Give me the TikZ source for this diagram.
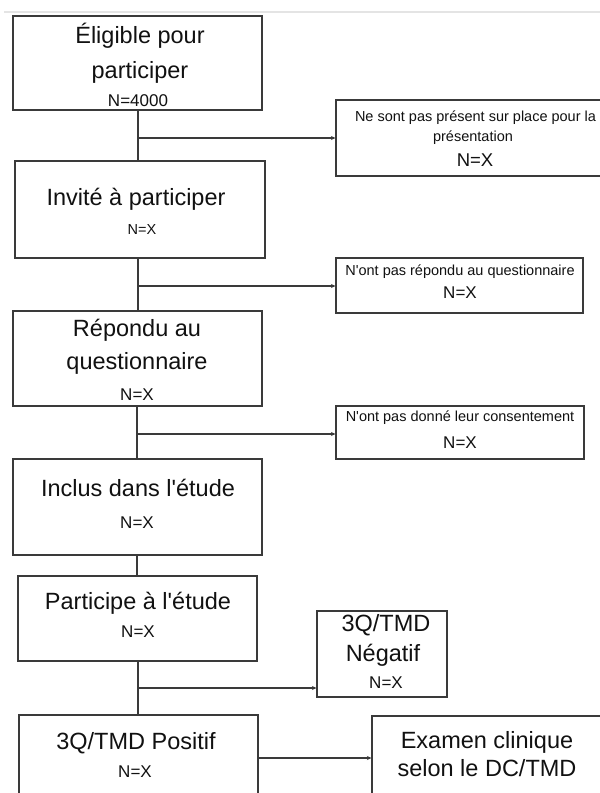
\documentclass[tikz,border=0pt]{standalone}
\usepackage{fontspec}
\setmainfont{Liberation Sans}[Ligatures=TeXOff]
\usetikzlibrary{arrows.meta}
\definecolor{ln}{HTML}{3A3A3A}
\definecolor{tx}{HTML}{111111}
\definecolor{sep}{HTML}{E4E4E4}
\begin{document}
\begin{tikzpicture}[x=1pt,y=-1pt,
  box/.style={draw=ln,line width=1.1pt,rectangle,inner sep=0pt},
  conn/.style={draw=ln,line width=1.1pt},
  arr/.style={conn,-{Stealth[length=4.5pt,width=4pt]}},
  big/.style={text=tx,inner sep=0pt,font=\fontsize{23.5}{28}\selectfont,text height=17pt,text depth=5pt},
  smalltx/.style={text=tx,inner sep=0pt,font=\fontsize{14.5}{17}\selectfont,text height=10.5pt,text depth=3pt},
  nx/.style={text=tx,inner sep=0pt,font=\fontsize{17}{20}\selectfont,text height=12.2pt,text depth=0pt},
  nxs/.style={text=tx,inner sep=0pt,font=\fontsize{14.5}{17}\selectfont,text height=10.4pt,text depth=0pt},
  nxl/.style={text=tx,inner sep=0pt,font=\fontsize{18.5}{22}\selectfont,text height=13.3pt,text depth=0pt}]
\useasboundingbox (0,0) rectangle (600,793);
\clip (0,0) rectangle (600,793);
\fill[white] (0,0) rectangle (600,793);
% separator line at the top
\draw[sep,line width=1.8pt] (4,12) -- (600,12);

% boxes
\node[box,minimum width=249pt,minimum height=94pt] (E) at (137.5,63) {};
\node[box,minimum width=250pt,minimum height=97pt] (I) at (140,209.5) {};
\node[box,minimum width=278pt,minimum height=76pt] (R1) at (475,138) {};
\node[box,minimum width=247pt,minimum height=55pt] (R2) at (459.5,285.5) {};
\node[box,minimum width=249pt,minimum height=95pt] (Rep) at (137.5,358.5) {};
\node[box,minimum width=248pt,minimum height=53pt] (R3) at (460,432.5) {};
\node[box,minimum width=249pt,minimum height=96pt] (Inc) at (137.5,507) {};
\node[box,minimum width=239pt,minimum height=85pt] (Par) at (137.5,618.5) {};
\node[box,minimum width=130pt,minimum height=86pt] (Neg) at (382,654) {};
\node[box,minimum width=239pt,minimum height=90pt] (Pos) at (138.5,760) {};
\node[box,minimum width=230pt,minimum height=94pt] (Exa) at (487,763) {};

% texts
\node[big] (tE1) at (140,37) {Éligible pour};
\node[big] (tE2) at (140,72) {participer};
\node[nx] (tE3) at (138,100) {N=4000};

\node[big] (tI1) at (136,199) {Invité à participer};
\node[nxs] (tI2) at (142,229) {N=X};

\node[smalltx] (tR11) at (475.5,118) {Ne sont pas présent sur place pour la};
\node[smalltx] (tR12) at (473,138) {présentation};
\node[nxl] (tR13) at (475,160) {N=X};

\node[smalltx] (tR21) at (460,272) {N'ont pas répondu au questionnaire};
\node[nx] (tR22) at (460,292) {N=X};

\node[big] (tRep1) at (137,330) {Répondu au};
\node[big] (tRep2) at (137,363) {questionnaire};
\node[nx] (tRep3) at (137,394) {N=X};

\node[smalltx] (tR31) at (460,418) {N'ont pas donné leur consentement};
\node[nx] (tR32) at (460,442) {N=X};

\node[big] (tInc1) at (138,490) {Inclus dans l'étude};
\node[nx] (tInc2) at (137,522) {N=X};

\node[big] (tPar1) at (138,603) {Participe à l'étude};
\node[nx] (tPar2) at (138,631) {N=X};

\node[big] (tNeg1) at (386,625) {3Q/TMD};
\node[big] (tNeg2) at (383,655) {Négatif};
\node[nx] (tNeg3) at (386,682) {N=X};

\node[big] (tPos1) at (136,743) {3Q/TMD Positif};
\node[nx] (tPos2) at (135,771) {N=X};

\node[big] (tExa1) at (487,742) {Examen clinique};
\node[big] (tExa2) at (487,770) {selon le DC/TMD};

% junctions
\coordinate (j1) at (138,138);
\coordinate (j2) at (138,286);
\coordinate (j3) at (137,434);
\coordinate (j4) at (138,688);
\coordinate (j5) at (258,758);

% vertical connectors
\draw[conn] (E.south -| j1) -- (I.north -| j1);
\draw[conn] (I.south -| j2) -- (Rep.north -| j2);
\draw[conn] (Rep.south -| j3) -- (Inc.north -| j3);
\draw[conn] (Inc.south -| j3) -- (Par.north -| j3);
\draw[conn] (Par.south -| j4) -- (Pos.north -| j4);

% branches
\draw[arr] (j1) -- (R1.west |- j1);
\draw[arr] (j2) -- (R2.west |- j2);
\draw[arr] (j3) -- (R3.west |- j3);
\draw[arr] (j4) -- (Neg.west |- j4);
\draw[arr] (Pos.east |- j5) -- (Exa.west |- j5);
\end{tikzpicture}
\end{document}
